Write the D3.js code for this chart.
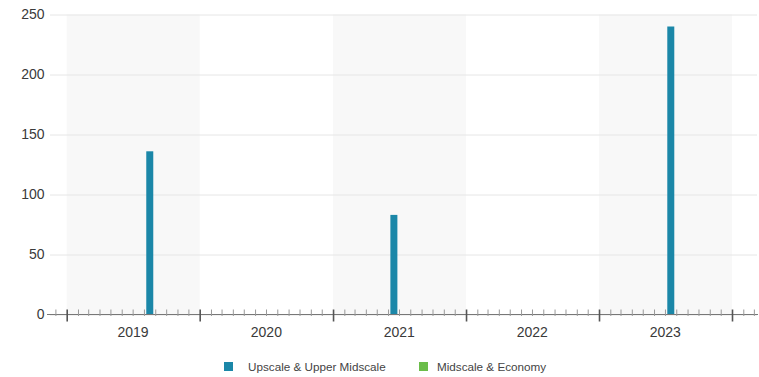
<!DOCTYPE html>
<html>
<head>
<meta charset="utf-8">
<script src="https://cdn.jsdelivr.net/npm/d3@7"></script>
<style>
  html, body { margin: 0; padding: 0; background: #fff; }
  svg { display: block; font-family: "Liberation Sans", Arial, sans-serif; }
</style>
</head>
<body>
<svg id="chart" width="759" height="377"></svg>
<script>
// Category labels (years) and the years that get a shaded band
const years = ["2019", "2020", "2021", "2022", "2023"];
const shadedYears = ["2019", "2021", "2023"];

// Bar dates and series values
const barDates = ["2019-08-17", "2021-06-17", "2023-07-17"];
const upscaleValues = [136, 83, 240];
const midscaleValues = [0, 0, 0];

// Y axis ticks
const yTicks = [0, 50, 100, 150, 200, 250];

// Legend entries
const seriesNames = ["Upscale & Upper Midscale", "Midscale & Economy"];
const seriesColors = ["#1b87a8", "#6bbd4a"];

const parse = d3.utcParse("%Y-%m-%d");
const svg = d3.select("#chart");

const plotLeft = 47, plotRight = 758;
const x = d3.scaleUtc()
  .domain([parse("2019-01-01"), parse("2024-01-01")])
  .range([66.7, 732]);
const y = d3.scaleLinear().domain([0, 250]).range([314.5, 14.5]);

const startDate = x.invert(plotLeft);
const endDate = x.invert(plotRight);

// Alternating year bands
svg.append("g").selectAll("rect")
  .data(shadedYears)
  .join("rect")
  .attr("x", d => x(parse(d + "-01-01")))
  .attr("width", d => x(parse((+d + 1) + "-01-01")) - x(parse(d + "-01-01")))
  .attr("y", y(250))
  .attr("height", y(0) - y(250))
  .attr("fill", "#f8f8f8");

// Horizontal gridlines + y labels
const yAxis = d3.axisLeft(y).tickValues(yTicks).tickSize(-(757 - 50)).tickPadding(6);
const gy = svg.append("g").attr("transform", "translate(50,0)").call(yAxis);
gy.select(".domain").remove();
gy.selectAll(".tick line").attr("stroke", "#e6e6e6");
gy.selectAll(".tick text").attr("fill", "#3a3a3a").attr("font-size", 14)
  .attr("x", -5.5);

// Bars
const barW = 7;
const series = [
  { name: seriesNames[0], color: seriesColors[0], values: upscaleValues },
  { name: seriesNames[1], color: seriesColors[1], values: midscaleValues }
];
svg.append("g").selectAll("g")
  .data(series)
  .join("g")
  .attr("fill", d => d.color)
  .selectAll("rect")
  .data(s => s.values.map((v, i) => ({ date: parse(barDates[i]), v })))
  .join("rect")
  .attr("x", d => x(d.date) - barW / 2)
  .attr("width", barW)
  .attr("y", d => y(d.v))
  .attr("height", d => y(0) - y(d.v));

// X axis: monthly minor ticks, yearly major ticks
const axisY = y(0);
const gx = svg.append("g").attr("transform", `translate(0,${axisY})`);
gx.append("line")
  .attr("x1", plotLeft).attr("x2", plotRight)
  .attr("stroke", "#777").attr("stroke-width", 1.2);

const months = d3.utcMonth.range(d3.utcMonth.ceil(startDate), endDate)
  .filter(d => d.getUTCMonth() !== 0);
const yearStarts = d3.utcYear.range(d3.utcYear.ceil(startDate), endDate);

gx.call(d3.axisBottom(x).tickValues(months).tickSize(0).tickFormat(""))
  .call(g => g.select(".domain").remove())
  .call(g => g.selectAll(".tick line").attr("y1", -5).attr("y2", 1.5)
    .attr("stroke", "#999").attr("stroke-width", 1));

const gMajor = svg.append("g").attr("transform", `translate(0,${axisY})`)
  .call(d3.axisBottom(x).tickValues(yearStarts).tickSize(0).tickFormat(""));
gMajor.select(".domain").remove();
gMajor.selectAll(".tick line").attr("y1", -5).attr("y2", 7)
  .attr("stroke", "#555").attr("stroke-width", 1.6);

// Year labels centred in each year
svg.append("g").selectAll("text")
  .data(years)
  .join("text")
  .attr("x", d => x(parse(d + "-07-02")))
  .attr("y", 336.5)
  .attr("text-anchor", "middle")
  .attr("font-size", 14)
  .attr("fill", "#3a3a3a")
  .text(d => d);

// Legend
const legendX = [224, 419];
const lg = svg.append("g").selectAll("g")
  .data(series)
  .join("g")
  .attr("transform", (d, i) => `translate(${legendX[i]},362)`);
lg.append("rect").attr("width", 9).attr("height", 9).attr("fill", d => d.color);
lg.append("text").attr("x", (d, i) => i === 0 ? 24 : 18).attr("y", 8.8)
  .attr("font-size", 11.7).attr("fill", "#444").text(d => d.name);
</script>
</body>
</html>
